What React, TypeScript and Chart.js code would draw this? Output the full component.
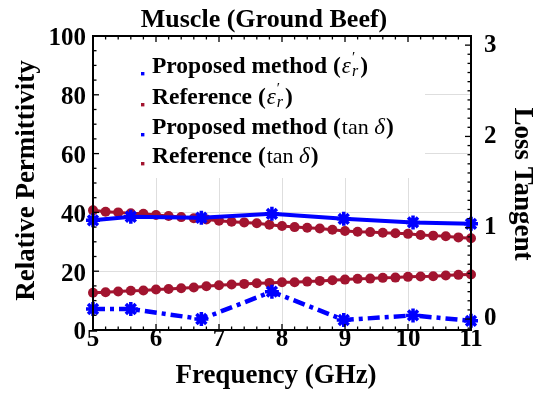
import React, { useEffect, useRef } from 'react';
import { Chart, registerables } from 'chart.js';

Chart.register(...registerables);

// ---------- data ----------
const FREQ_REF = [
  5.0, 5.2, 5.4, 5.6, 5.8, 6.0, 6.2, 6.4, 6.6, 6.8, 7.0, 7.2, 7.4, 7.6, 7.8, 8.0,
  8.2, 8.4, 8.6, 8.8, 9.0, 9.2, 9.4, 9.6, 9.8, 10.0, 10.2, 10.4, 10.6, 10.8, 11.0,
];
const REF_EPS = [
  40.7, 40.2, 40.0, 39.7, 39.5, 39.1, 38.8, 38.4, 38.0, 37.6, 37.2, 36.8, 36.6, 36.3, 35.8, 35.4,
  35.0, 34.8, 34.5, 34.1, 33.7, 33.4, 33.3, 33.1, 32.9, 32.7, 32.3, 32.1, 31.9, 31.5, 31.2,
];
const REF_TAN = [
  0.287, 0.293, 0.301, 0.309, 0.312, 0.323, 0.33, 0.337, 0.345, 0.359, 0.37, 0.378, 0.385, 0.392, 0.396, 0.403,
  0.403, 0.41, 0.418, 0.425, 0.432, 0.44, 0.443, 0.451, 0.454, 0.462, 0.465, 0.468, 0.476, 0.484, 0.487,
];
const FREQ_PROP = [5.0, 5.6, 6.72, 7.84, 8.98, 10.08, 11.0];
const PROP_EPS = [37.3, 38.5, 38.2, 39.5, 37.8, 36.6, 36.1];
const PROP_TAN = [0.11, 0.11, 0.0, 0.3, -0.01, 0.04, -0.02];

const X_TICKS = [5, 6, 7, 8, 9, 10, 11];
const LEFT_TICKS = [0, 20, 40, 60, 80, 100];
const RIGHT_TICKS = [0, 1, 2, 3];

const TITLE = 'Muscle (Ground Beef)';
const X_TITLE = 'Frequency (GHz)';
const Y_TITLE = 'Relative Permittivity';
const Y1_TITLE = 'Loss Tangent';

// ---------- styles ----------
const BLUE = '#0000ff';
const RED = '#a2142f';
const GRID = '#dedede';
const SERIF = '"Liberation Serif", "Times New Roman", serif';

const zip = (xs: number[], ys: number[]) => xs.map((x, i) => ({ x, y: ys[i] }));

type Part = { t: string; f: string; dy?: number; stackNext?: boolean; pad?: number };

function drawRich(ctx: CanvasRenderingContext2D, x: number, y: number, parts: Part[]) {
  let cx = x;
  let stackX: number | null = null;
  let stackW = 0;
  for (const p of parts) {
    ctx.font = p.f;
    const w = ctx.measureText(p.t).width;
    const px = stackX !== null ? stackX : cx;
    ctx.fillText(p.t, px, y + (p.dy || 0));
    if (p.stackNext) {
      stackX = cx;
      stackW = w;
    } else if (stackX !== null) {
      cx = stackX + Math.max(w, stackW) + (p.pad || 0);
      stackX = null;
      stackW = 0;
    } else {
      cx += w + (p.pad || 0);
    }
  }
}

const decorPlugin = {
  id: 'decor',
  afterDraw(chart: any) {
    const { ctx, chartArea: a } = chart;
    const xs = chart.scales.x;
    const ys = chart.scales.y;
    const y1 = chart.scales.y1;
    ctx.save();

    // legend background
    ctx.fillStyle = '#ffffff';
    ctx.fillRect(a.left + 4, a.top + 2, 328, 140);

    // legend entries
    const bold = `bold 23.5px ${SERIF}`;
    const ital = `italic 23px ${SERIF}`;
    const small = `15px ${SERIF}`;
    const smallIt = `italic 16px ${SERIF}`;
    const norm = `22px ${SERIF}`;
    const epsParts = (lead: string): Part[] => [
      { t: lead, f: bold, pad: 1 },
      { t: 'ε', f: ital, pad: 1 },
      { t: '′', f: small, dy: -11, stackNext: true },
      { t: 'r', f: smallIt, dy: 3, pad: 2 },
      { t: ')', f: bold },
    ];
    const tanParts = (lead: string): Part[] => [
      { t: lead, f: bold, pad: 1 },
      { t: 'tan ', f: norm },
      { t: 'δ', f: ital, pad: 1 },
      { t: ')', f: bold },
    ];
    const entries = [
      { c: BLUE, y: 73, parts: epsParts('Proposed method (') },
      { c: RED, y: 104, parts: epsParts('Reference (') },
      { c: BLUE, y: 134, parts: tanParts('Proposed method (') },
      { c: RED, y: 163, parts: tanParts('Reference (') },
    ];
    ctx.textAlign = 'left';
    ctx.textBaseline = 'alphabetic';
    for (const e of entries) {
      ctx.fillStyle = e.c;
      ctx.fillRect(a.left + 48, e.y - 1, 3.4, 3.4);
      ctx.fillStyle = '#000';
      drawRich(ctx, a.left + 59, e.y, e.parts);
    }

    // tick marks
    ctx.strokeStyle = '#000';
    ctx.lineWidth = 1.3;
    const line = (x1: number, y1p: number, x2: number, y2p: number) => {
      ctx.beginPath();
      ctx.moveTo(x1, y1p);
      ctx.lineTo(x2, y2p);
      ctx.stroke();
    };
    for (let i = 0; i <= 30; i++) {
      const v = 5 + i * 0.2;
      const px = xs.getPixelForValue(v);
      const L = i % 5 === 0 ? 6 : 3.5;
      line(px, a.bottom, px, a.bottom - L);
      line(px, a.top, px, a.top + L);
    }
    for (let i = 0; i <= 20; i++) {
      const v = i * 5;
      const py = ys.getPixelForValue(v);
      const L = v % 20 === 0 ? 6 : 3.5;
      line(a.left, py, a.left + L, py);
    }
    for (let i = -1; i <= 31; i++) {
      const v = i * 0.1;
      const py = y1.getPixelForValue(v);
      if (py < a.top || py > a.bottom) continue;
      const L = i % 10 === 0 ? 6 : 3.5;
      line(a.right, py, a.right - L, py);
    }

    // border
    ctx.lineWidth = 2;
    ctx.strokeRect(a.left, a.top, a.right - a.left, a.bottom - a.top);

    // titles
    ctx.fillStyle = '#000';
    ctx.textAlign = 'center';
    ctx.textBaseline = 'alphabetic';
    ctx.font = `bold 26px ${SERIF}`;
    ctx.fillText(TITLE, 264, 27);
    ctx.font = `bold 27px ${SERIF}`;
    ctx.fillText(X_TITLE, 276, 383);

    ctx.save();
    ctx.translate(33.5, 180.5);
    ctx.rotate(-Math.PI / 2);
    ctx.fillText(Y_TITLE, 0, 0);
    ctx.restore();

    ctx.save();
    ctx.translate(515, 184);
    ctx.rotate(Math.PI / 2);
    ctx.fillText(Y1_TITLE, 0, 0);
    ctx.restore();

    ctx.restore();
  },
};

export default function App() {
  const ref = useRef<HTMLCanvasElement | null>(null);

  useEffect(() => {
    if (!ref.current) return;
    const tickFont = { family: SERIF, size: 25, weight: 'bold' as const, lineHeight: 1 };
    const chart = new Chart(ref.current, {
      type: 'line',
      data: {
        datasets: [
          {
            label: 'Proposed method (εr)',
            data: zip(FREQ_PROP, PROP_EPS),
            yAxisID: 'y',
            borderColor: BLUE,
            backgroundColor: BLUE,
            borderWidth: 4,
            pointStyle: 'star',
            pointRadius: 7,
            pointBorderWidth: 3.5,
            pointBorderColor: BLUE,
            tension: 0,
            clip: false as any,
          },
          {
            label: 'Proposed method (tan δ)',
            data: zip(FREQ_PROP, PROP_TAN),
            yAxisID: 'y1',
            borderColor: BLUE,
            backgroundColor: BLUE,
            borderWidth: 4.5,
            borderDash: [12, 5, 4, 5],
            pointStyle: 'star',
            pointRadius: 7,
            pointBorderWidth: 3.5,
            pointBorderColor: BLUE,
            tension: 0,
            clip: false as any,
          },
          {
            label: 'Reference (εr)',
            data: zip(FREQ_REF, REF_EPS),
            yAxisID: 'y',
            borderColor: RED,
            backgroundColor: RED,
            borderWidth: 3,
            pointStyle: 'circle',
            pointRadius: 5,
            pointBorderWidth: 0,
            tension: 0,
            clip: false as any,
          },
          {
            label: 'Reference (tan δ)',
            data: zip(FREQ_REF, REF_TAN),
            yAxisID: 'y1',
            borderColor: RED,
            backgroundColor: RED,
            borderWidth: 3,
            pointStyle: 'circle',
            pointRadius: 5,
            pointBorderWidth: 0,
            tension: 0,
            clip: false as any,
          },
        ],
      },
      options: {
        animation: false,
        responsive: false,
        devicePixelRatio: 1,
        layout: { padding: { top: 36, left: 0, right: 0, bottom: 0 } },
        plugins: {
          legend: { display: false },
          title: { display: false },
          tooltip: { enabled: false },
        },
        scales: {
          x: {
            type: 'linear',
            position: 'bottom',
            min: 5,
            max: 11,
            afterBuildTicks: (s: any) => {
              s.ticks = X_TICKS.map((v) => ({ value: v }));
            },
            afterFit: (s: any) => {
              s.height = 64;
            },
            ticks: { font: tickFont, color: '#000', padding: -3, maxRotation: 0, autoSkip: false },
            grid: { color: GRID, lineWidth: 1, drawTicks: false },
            border: { display: false },
          },
          y: {
            type: 'linear',
            position: 'left',
            min: 0,
            max: 100,
            afterBuildTicks: (s: any) => {
              s.ticks = LEFT_TICKS.map((v) => ({ value: v }));
            },
            afterFit: (s: any) => {
              s.width = 93;
            },
            ticks: { font: tickFont, color: '#000', padding: 7, labelOffset: 3 },
            grid: { color: GRID, lineWidth: 1, drawTicks: false },
            border: { display: false },
          },
          y1: {
            type: 'linear',
            position: 'right',
            min: -0.12,
            max: 3.1,
            afterBuildTicks: (s: any) => {
              s.ticks = RIGHT_TICKS.map((v) => ({ value: v }));
            },
            afterFit: (s: any) => {
              s.width = 78;
            },
            ticks: { font: tickFont, color: '#000', padding: 13 },
            grid: { display: false, drawTicks: false },
            border: { display: false },
          },
        },
      } as any,
      plugins: [decorPlugin],
    });
    return () => chart.destroy();
  }, []);

  return (
    <div style={{ position: 'fixed', left: 0, top: 0, width: 549, height: 394, background: '#fff' }}>
      <canvas ref={ref} width={549} height={394} style={{ display: 'block', width: 549, height: 394 }} />
    </div>
  );
}
